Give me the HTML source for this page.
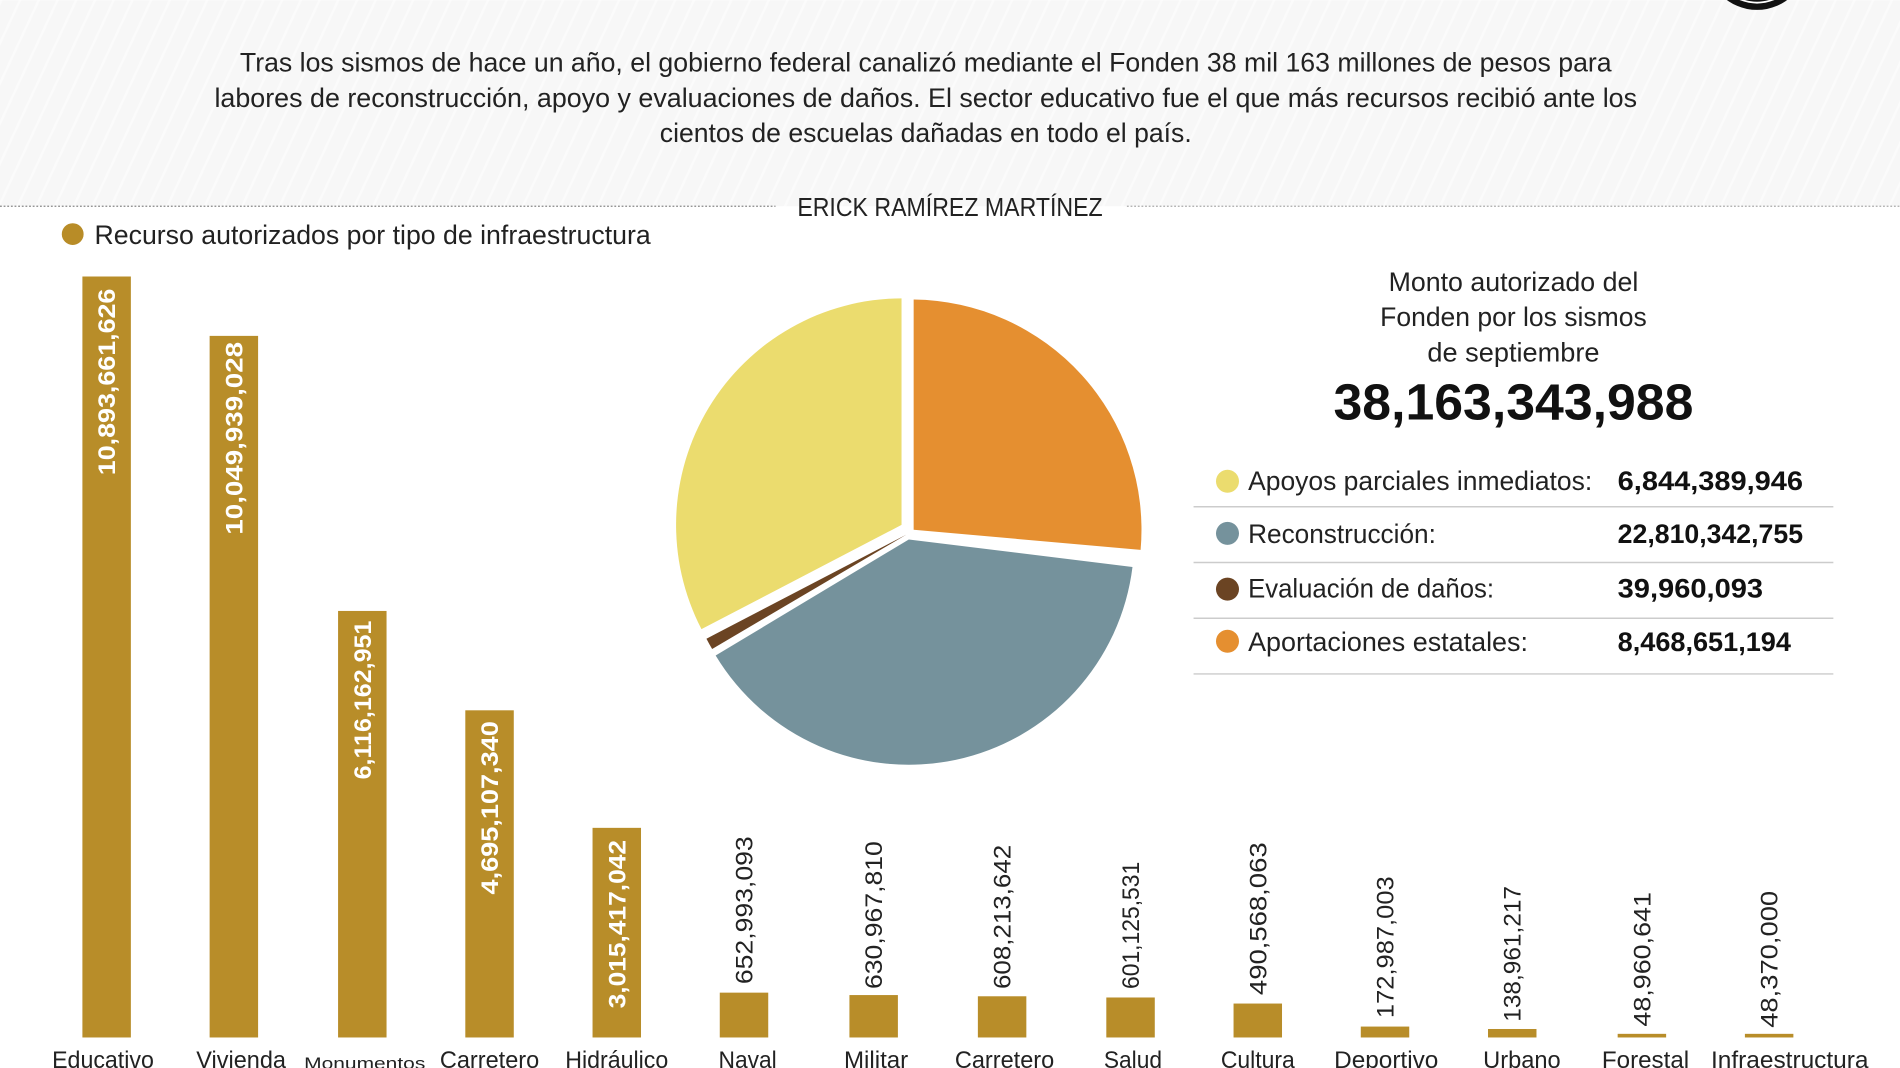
<!DOCTYPE html>
<html><head><meta charset="utf-8"><style>html,body{margin:0;padding:0;background:#fff}svg{display:block}text{font-family:"Liberation Sans",sans-serif}</style></head>
<body>
<svg width="1900" height="1068" viewBox="0 0 1568 881" xmlns="http://www.w3.org/2000/svg">
<defs>
<pattern id="st" width="14" height="14" patternUnits="userSpaceOnUse" patternTransform="rotate(25)">
<rect width="14" height="14" fill="#f7f7f7"/><rect width="2" height="14" fill="#fbfbfb"/>
</pattern>
</defs>
<rect x="0" y="0" width="1568" height="170" fill="url(#st)"/>
<circle cx="1450" cy="-34" r="42" fill="#111"/>
<circle cx="1450" cy="-34" r="36" fill="none" stroke="#fff" stroke-width="1.5"/>
<g font-size="22" fill="#222" text-anchor="middle">
<text x="764" y="59" textLength="1132" lengthAdjust="spacingAndGlyphs">Tras los sismos de hace un año, el gobierno federal canalizó mediante el Fonden 38 mil 163 millones de pesos para</text>
<text x="764" y="88" textLength="1174" lengthAdjust="spacingAndGlyphs">labores de reconstrucción, apoyo y evaluaciones de daños. El sector educativo fue el que más recursos recibió ante los</text>
<text x="764" y="117" textLength="439" lengthAdjust="spacingAndGlyphs">cientos de escuelas dañadas en todo el país.</text>
</g>
<line x1="0" y1="170" x2="640" y2="170" stroke="#888" stroke-dasharray="1.5 1.5"/>
<line x1="930" y1="170" x2="1568" y2="170" stroke="#aaa" stroke-dasharray="1.5 1.5"/>
<text x="658" y="178" font-size="21" fill="#222" textLength="252" lengthAdjust="spacingAndGlyphs">ERICK RAMÍREZ MARTÍNEZ</text>
<circle cx="60" cy="193" r="9" fill="#b88c27"/>
<text x="78" y="201" font-size="22" fill="#222" textLength="459" lengthAdjust="spacingAndGlyphs">Recurso autorizados por tipo de infraestructura</text>

<g fill="#b88d29">
<rect x="68" y="228" width="40" height="628"/>
<rect x="173" y="277" width="40" height="579"/>
<rect x="279" y="504" width="40" height="352"/>
<rect x="384" y="586" width="40" height="270"/>
<rect x="489" y="683" width="40" height="173"/>
<rect x="594" y="819" width="40" height="37"/>
<rect x="701" y="821" width="40" height="35"/>
<rect x="807" y="822" width="40" height="34"/>
<rect x="913" y="823" width="40" height="33"/>
<rect x="1018" y="828" width="40" height="28"/>
<rect x="1123" y="847" width="40" height="9"/>
<rect x="1228" y="849" width="40" height="7"/>
<rect x="1335" y="853" width="40" height="3"/>
<rect x="1440" y="853" width="40" height="3"/>
</g>
<g font-size="20" font-weight="bold" fill="#fff">
<text transform="translate(95,392) rotate(-90)" textLength="154" lengthAdjust="spacingAndGlyphs">10,893,661,626</text>
<text transform="translate(200,441) rotate(-90)" textLength="159" lengthAdjust="spacingAndGlyphs">10,049,939,028</text>
<text transform="translate(306,643) rotate(-90)" textLength="131" lengthAdjust="spacingAndGlyphs">6,116,162,951</text>
<text transform="translate(411,738) rotate(-90)" textLength="143" lengthAdjust="spacingAndGlyphs">4,695,107,340</text>
<text transform="translate(516,832) rotate(-90)" textLength="139" lengthAdjust="spacingAndGlyphs">3,015,417,042</text>
</g>
<g font-size="20" fill="#222">
<text transform="translate(621,812) rotate(-90)" textLength="122" lengthAdjust="spacingAndGlyphs">652,993,093</text>
<text transform="translate(728,816) rotate(-90)" textLength="122" lengthAdjust="spacingAndGlyphs">630,967,810</text>
<text transform="translate(834,816) rotate(-90)" textLength="119" lengthAdjust="spacingAndGlyphs">608,213,642</text>
<text transform="translate(940,816) rotate(-90)" textLength="105" lengthAdjust="spacingAndGlyphs">601,125,531</text>
<text transform="translate(1045,821) rotate(-90)" textLength="126" lengthAdjust="spacingAndGlyphs">490,568,063</text>
<text transform="translate(1150,840) rotate(-90)" textLength="117" lengthAdjust="spacingAndGlyphs">172,987,003</text>
<text transform="translate(1255,843) rotate(-90)" textLength="112" lengthAdjust="spacingAndGlyphs">138,961,217</text>
<text transform="translate(1362,847) rotate(-90)" textLength="111" lengthAdjust="spacingAndGlyphs">48,960,641</text>
<text transform="translate(1467,848) rotate(-90)" textLength="113" lengthAdjust="spacingAndGlyphs">48,370,000</text>
</g>
<g font-size="20" fill="#222" text-anchor="middle">
<text x="85" y="881" textLength="84" lengthAdjust="spacingAndGlyphs">Educativo</text>
<text x="199" y="881" textLength="74" lengthAdjust="spacingAndGlyphs">Vivienda</text>
<text x="301" y="882" font-size="14" textLength="100" lengthAdjust="spacingAndGlyphs">Monumentos</text>
<text x="404" y="881" textLength="82" lengthAdjust="spacingAndGlyphs">Carretero</text>
<text x="509" y="881" textLength="85" lengthAdjust="spacingAndGlyphs">Hidráulico</text>
<text x="617" y="881" textLength="48" lengthAdjust="spacingAndGlyphs">Naval</text>
<text x="723" y="881" textLength="53" lengthAdjust="spacingAndGlyphs">Militar</text>
<text x="829" y="881" textLength="82" lengthAdjust="spacingAndGlyphs">Carretero</text>
<text x="935" y="881" textLength="48" lengthAdjust="spacingAndGlyphs">Salud</text>
<text x="1038" y="881" textLength="61" lengthAdjust="spacingAndGlyphs">Cultura</text>
<text x="1144" y="881" textLength="86" lengthAdjust="spacingAndGlyphs">Deportivo</text>
<text x="1256" y="881" textLength="64" lengthAdjust="spacingAndGlyphs">Urbano</text>
<text x="1358" y="881" textLength="72" lengthAdjust="spacingAndGlyphs">Forestal</text>
<text x="1477" y="881" textLength="130" lengthAdjust="spacingAndGlyphs">Infraestructura</text>
</g>

<path d="M754,437 L754,247 A190,190 0 0 1 941.3,453.6 Z" fill="#e58f30"/>
<path d="M750,445 L934.6,467.7 A186,186 0 0 1 590.6,540.8 Z" fill="#75929c"/>
<path d="M748,441 L587.7,535.4 A186,186 0 0 1 583,526.9 Z" fill="#6b4423"/>
<path d="M744,433 L578.9,519 A187,187 0 0 1 744,246 Z" fill="#ebdc6e"/>

<g font-size="22" fill="#222" text-anchor="middle">
<text x="1249" y="240" textLength="206" lengthAdjust="spacingAndGlyphs">Monto autorizado del</text>
<text x="1249" y="269" textLength="220" lengthAdjust="spacingAndGlyphs">Fonden por los sismos</text>
<text x="1249" y="298" textLength="142" lengthAdjust="spacingAndGlyphs">de septiembre</text>
<text x="1249" y="346" font-size="42" font-weight="bold" fill="#111" textLength="297" lengthAdjust="spacingAndGlyphs">38,163,343,988</text>
</g>
<g stroke="#ccc" stroke-width="1.2">
<line x1="985" y1="418" x2="1513" y2="418"/><line x1="985" y1="464" x2="1513" y2="464"/>
<line x1="985" y1="510" x2="1513" y2="510"/><line x1="985" y1="556" x2="1513" y2="556"/>
</g>
<circle cx="1013" cy="397" r="9.5" fill="#ebdc6e"/>
<circle cx="1013" cy="440" r="9.5" fill="#75929c"/>
<circle cx="1013" cy="486" r="9.5" fill="#6b4423"/>
<circle cx="1013" cy="529" r="9.5" fill="#e58f30"/>
<g font-size="22" fill="#222">
<text x="1030" y="404" textLength="284" lengthAdjust="spacingAndGlyphs">Apoyos parciales inmediatos:</text>
<text x="1030" y="448" textLength="155" lengthAdjust="spacingAndGlyphs">Reconstrucción:</text>
<text x="1030" y="493" textLength="203" lengthAdjust="spacingAndGlyphs">Evaluación de daños:</text>
<text x="1030" y="537" textLength="231" lengthAdjust="spacingAndGlyphs">Aportaciones estatales:</text>
</g>
<g font-size="22" font-weight="bold" fill="#111">
<text x="1335" y="404" textLength="153" lengthAdjust="spacingAndGlyphs">6,844,389,946</text>
<text x="1335" y="448" textLength="153" lengthAdjust="spacingAndGlyphs">22,810,342,755</text>
<text x="1335" y="493" textLength="120" lengthAdjust="spacingAndGlyphs">39,960,093</text>
<text x="1335" y="537" textLength="143" lengthAdjust="spacingAndGlyphs">8,468,651,194</text>
</g>
</svg>
</body></html>
